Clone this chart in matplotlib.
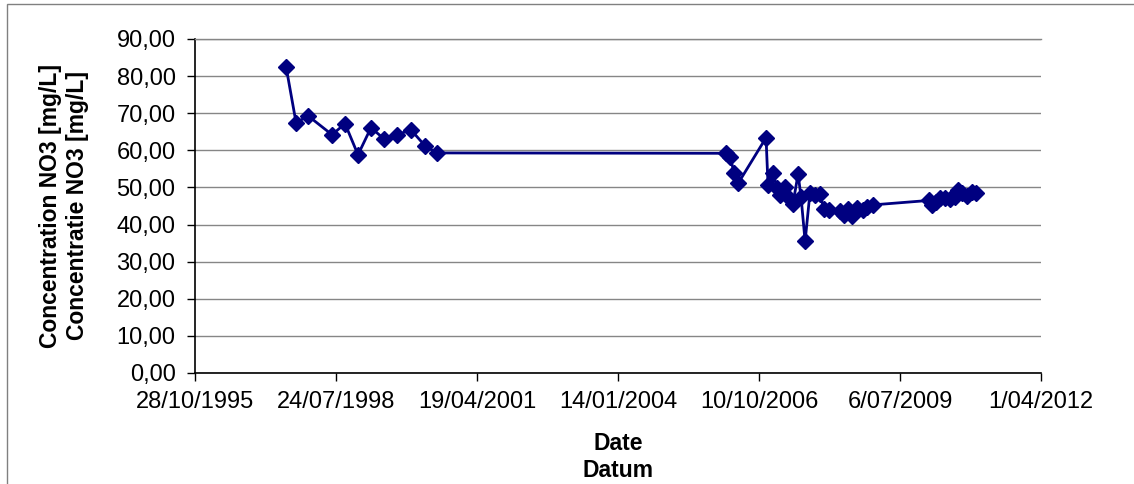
import pandas as pd
import matplotlib.pyplot as plt
from matplotlib.patches import Rectangle

# Nitraat-meetreeks (datum, concentratie in mg/L)
datums = [
    "1997-08-04", "1997-10-14", "1998-01-07", "1998-06-26", "1998-09-26", "1998-12-27",
    "1999-03-29", "1999-06-29", "1999-09-29", "2000-01-07", "2000-04-16", "2000-07-10",
    "2006-02-19", "2006-03-19", "2006-04-16", "2006-05-15", "2006-11-29", "2006-12-13",
    "2007-01-18", "2007-02-15", "2007-03-08", "2007-04-13", "2007-05-18", "2007-06-08",
    "2007-07-14", "2007-08-04", "2007-09-02", "2007-10-06", "2007-11-11", "2007-12-16",
    "2008-01-14", "2008-02-19", "2008-05-08", "2008-06-04", "2008-07-03", "2008-07-31",
    "2008-09-05", "2008-10-17", "2008-11-14", "2008-12-27",
    "2010-01-28", "2010-02-19", "2010-03-19", "2010-04-16", "2010-05-21", "2010-06-26",
    "2010-07-31", "2010-08-21", "2010-09-19", "2010-10-24", "2010-11-29", "2010-12-27",
]
no3 = [
    82.5, 67.4, 69.3, 64.2, 67.2, 58.8, 66.1, 63.1, 64.2, 65.5, 61.2, 59.3,
    59.2, 58.3, 54.0, 51.1, 63.4, 50.7,
    53.9, 49.8, 48.0, 50.2, 47.0, 45.6,
    53.6, 47.5, 35.5, 48.4, 48.0, 48.2,
    44.2, 44.0, 43.6, 42.6, 44.3, 42.2,
    44.4, 43.8, 44.6, 45.3,
    46.5, 45.3, 46.2, 47.1, 47.2, 47.0,
    47.3, 49.3, 48.4, 47.6, 48.7, 48.4,
]

x_ticks = ["1995-10-28", "1998-07-24", "2001-04-19", "2004-01-14",
           "2006-10-10", "2009-07-06", "2012-04-01"]
x_ticklabels = ["28/10/1995", "24/07/1998", "19/04/2001", "14/01/2004",
                "10/10/2006", "6/07/2009", "1/04/2012"]
y_ticks = [0, 10, 20, 30, 40, 50, 60, 70, 80, 90]

plt.rcParams['font.family'] = ['Liberation Sans', 'DejaVu Sans']

fig = plt.figure(figsize=(11.34, 4.84), dpi=100)
ax = fig.add_axes([195 / 1134, 1 - 373 / 484, 846 / 1134, 334 / 484])

# kader rond de grafiek
fig.patches.append(Rectangle((7 / 1134, -0.1), 1.2, 1.1 - 4 / 484,
                             transform=fig.transFigure, fill=False,
                             edgecolor='#808080', linewidth=1))

x = pd.to_datetime(datums)
ax.plot(x, no3, color='#000080', linewidth=2, marker='D', markersize=8,
        markerfacecolor='#000080', markeredgecolor='#000080', zorder=3)

xt = pd.to_datetime(x_ticks)
ax.set_xlim(xt[0], xt[-1])
ax.set_xticks(xt)
ax.set_xticklabels(x_ticklabels)
ax.set_ylim(0, 90)
ax.set_yticks(y_ticks)
ax.set_yticklabels([f"{v:.2f}".replace('.', ',') for v in y_ticks])

ax.grid(axis='y', color='#868686', linewidth=1)
ax.set_axisbelow(True)
ax.spines['right'].set_visible(False)
ax.spines['top'].set_color('#868686')
ax.spines['top'].set_linewidth(1)
for s in ('left', 'bottom'):
    ax.spines[s].set_color('black')
    ax.spines[s].set_linewidth(1.2)

ax.tick_params(axis='both', labelsize=17, length=6, width=1, direction='out')
ax.tick_params(axis='y', pad=8)
ax.tick_params(axis='x', pad=7)

ax.set_ylabel("Concentration NO3 [mg/L]\nConcentratie NO3 [mg/L]",
              fontsize=16.5, fontweight='bold', labelpad=20)
ax.set_xlabel("Date\nDatum", fontsize=16.5, fontweight='bold', labelpad=14)

fig.savefig("out.png", dpi=100)
